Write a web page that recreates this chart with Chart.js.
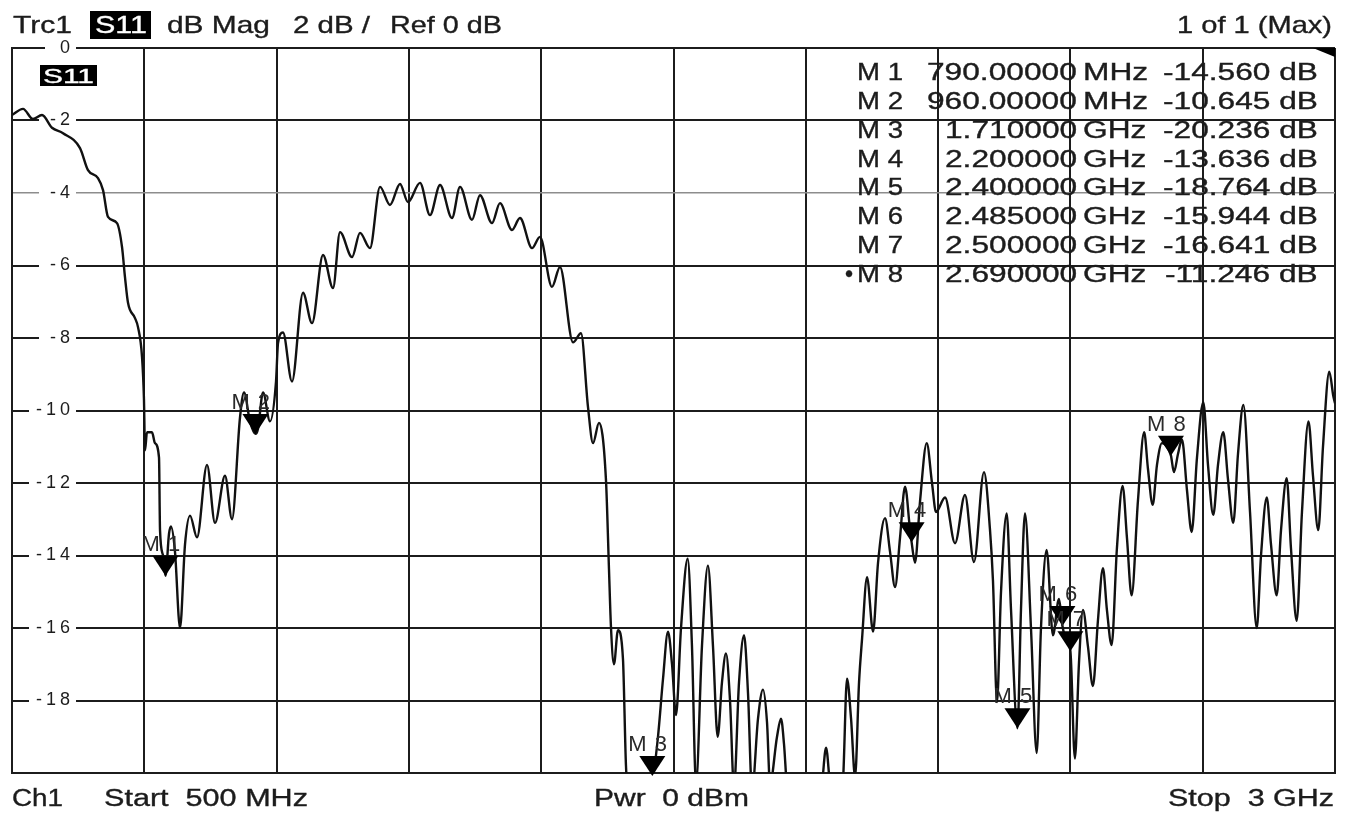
<!DOCTYPE html>
<html><head><meta charset="utf-8">
<script src="https://cdn.jsdelivr.net/npm/chart.js@4.4.1/dist/chart.umd.min.js"></script>
<style>
html,body{margin:0;padding:0;background:#fff;}
#wrap{position:relative;width:1350px;height:814px;overflow:hidden;background:#fff;}
#c{position:absolute;left:0;top:0;}
.t{position:absolute;white-space:pre;font-family:"Liberation Sans",Arial,sans-serif;color:#1c1c1c;line-height:1;transform-origin:0 0;-webkit-text-stroke:0.35px #1c1c1c;}
.w{-webkit-text-stroke:0.35px #fff;}
.box{position:absolute;background:#000;}
</style></head>
<body><div id="wrap"><canvas id="c" width="1350" height="814"></canvas></div>
<script>
// ---------- DATA ----------
const freqsMHz = [500,520.8,539.7,556.7,575.6,596.4,628.5,643.6,662.5,672.0,681.4,698.4,707.9,713.5,719.2,732.4,738.1,745.7,749.4,751.3,755.1,764.5,770.2,777.8,779.7,785.4,790,796.7,800.5,808.0,817.5,826.9,836.4,849.6,868.5,883.6,902.5,915.7,930.8,938.4,949.7,960,964.9,974.3,987.5,998.9,1002.7,1012.1,1029.1,1049.9,1066.9,1087.7,1106.6,1119.8,1142.5,1157.6,1176.5,1195.4,1214.3,1233.2,1248.3,1271.0,1289.9,1308.8,1331.4,1346.6,1369.2,1384.3,1407.0,1422.1,1444.8,1459.9,1482.6,1497.7,1520.4,1535.5,1560.1,1575.2,1588.4,1597.9,1609.2,1622.4,1628.1,1631.8,1637.5,1645.1,1654.5,1660.2,1667.8,1686.7,1710,1720.7,1730.2,1739.6,1747.2,1754.7,1764.2,1776.8,1784.9,1792.5,1803.8,1815.1,1824.6,1833.5,1841.6,1849.2,1856.8,1864.3,1873.8,1883.3,1890.8,1898.4,1909.7,1919.1,1926.7,1932.4,1945.6,1953.1,1958.8,1964.5,1989.0,2017.4,2030.7,2038.3,2045.8,2061.0,2070.4,2077.9,2085.5,2093.1,2100.6,2106.3,2115.7,2127.1,2136.5,2149.7,2159.2,2168.6,2178.1,2187.5,2197.0,2200,2206.4,2215.9,2228.5,2238.5,2246.1,2263.1,2282.0,2300.8,2317.8,2336.7,2348.1,2353.7,2361.3,2368.9,2379.6,2387.8,2400,2406.6,2414.2,2425.5,2436.3,2444.4,2455.1,2467.0,2478.4,2485,2491.6,2500,2508.5,2516.1,2523.7,2533.1,2542.6,2552.0,2561.5,2569.0,2577.9,2587.9,2598.7,2606.8,2615.7,2627.6,2639.4,2646.5,2655.5,2663.6,2673.0,2682.5,2690,2695.7,2703.3,2710.8,2720.3,2729.2,2739.2,2751.1,2760.0,2770.0,2778.9,2788.9,2797.8,2807.8,2816.7,2826.8,2839.4,2852.1,2860.2,2871.0,2879.1,2889.8,2898.0,2908.7,2916.8,2927.6,2937.6,2949.9,2958.4,2968.4,2977.3,2989.2,2996.8,3000];
const s11dB = [-1.85,-1.68,-1.96,-1.85,-2.2,-2.35,-2.76,-3.37,-3.59,-3.92,-4.66,-4.83,-5.49,-6.32,-7.03,-7.45,-7.7,-8.52,-9.71,-11.1,-10.6,-10.6,-10.9,-11.3,-13.3,-14.0,-14.56,-13.4,-13.2,-13.9,-16.0,-13.7,-12.9,-13.5,-11.5,-13.1,-11.8,-13.0,-10.2,-9.5,-10.3,-10.645,-10.5,-9.5,-10.3,-9.2,-8.14,-7.85,-9.2,-6.75,-7.59,-5.71,-6.62,-5.08,-5.77,-5.1,-5.52,-3.83,-4.33,-3.75,-4.25,-3.72,-4.61,-3.78,-4.69,-3.83,-4.74,-4.06,-4.83,-4.28,-5.02,-4.69,-5.52,-5.21,-6.59,-6.04,-8.12,-7.87,-9.9,-10.9,-10.34,-11.92,-14.38,-15.96,-17.0,-16.06,-16.85,-19.8,-21.0,-21.0,-20.236,-19.0,-17.4,-16.1,-17.0,-18.4,-16.0,-14.09,-16.5,-20.3,-16.5,-14.28,-16.5,-19.0,-17.5,-16.7,-18.0,-20.4,-17.5,-16.2,-17.8,-20.5,-18.5,-17.7,-18.6,-20.3,-19.0,-18.5,-19.2,-20.4,-21.5,-21.5,-20.3,-19.3,-20.3,-21.0,-20.2,-17.4,-18.5,-20.1,-17.5,-16.3,-14.6,-16.1,-14.2,-12.97,-13.9,-14.87,-13.5,-12.1,-13.3,-13.636,-14.2,-12.5,-10.9,-12.0,-12.8,-12.4,-13.66,-12.33,-14.18,-11.7,-13.3,-14.7,-18.04,-15.0,-12.84,-15.5,-18.764,-15.5,-12.84,-16.0,-19.45,-16.0,-13.85,-16.2,-15.2,-15.944,-16.3,-16.641,-19.6,-17.0,-15.5,-16.5,-17.6,-15.8,-14.35,-15.5,-16.47,-13.8,-12.08,-13.5,-15.1,-12.5,-10.6,-11.6,-12.6,-11.5,-10.9,-11.0,-11.246,-11.7,-11.2,-10.8,-12.2,-13.35,-11.3,-9.77,-11.5,-12.88,-11.5,-10.6,-11.9,-13.1,-11.2,-9.85,-12.8,-16.0,-14.0,-12.4,-13.7,-15.1,-13.3,-11.87,-13.8,-15.8,-12.8,-10.3,-11.8,-13.3,-11.0,-8.93,-9.6,-9.8];

const markerNames = ['M 1','M 2','M 3','M 4','M 5','M 6','M 7','M 8'];
const markerFreqsMHz = [790, 960, 1710, 2200, 2400, 2485, 2500, 2690];
const markerValuesDB = [-14.560, -10.645, -20.236, -13.636, -18.764, -15.944, -16.641, -11.246];
const activeMarker = 7;

const xTickValues = [500,750,1000,1250,1500,1750,2000,2250,2500,2750,3000];
const yTickValues = [0,-2,-4,-6,-8,-10,-12,-14,-16,-18,-20];
const yTickLabels = ['0','-2','-4','-6','-8','-10','-12','-14','-16','-18',''];

const headerTexts = ['Trc1','S11','dB Mag','2 dB /','Ref 0 dB','1 of 1 (Max)'];
const footerTexts = ['Ch1','Start  500 MHz','Pwr  0 dBm','Stop  3 GHz'];
const traceLabel = 'S11';

// ---------- LAYOUT (positions / styles) ----------
const INK = '#1c1c1c';
const wrap = document.getElementById('wrap');
function place(text, l, r, base, size, white){
  const el = document.createElement('span');
  el.className = white ? 't w' : 't';
  el.textContent = text;
  el.style.fontSize = size + 'px';
  if (white) el.style.color = '#fff';
  wrap.appendChild(el);
  const w = el.getBoundingClientRect().width;
  const s = (r - l) / w;
  el.style.left = l + 'px';
  el.style.top = (base - 0.8465 * size) + 'px';
  el.style.transform = 'scaleX(' + s + ')';
  return el;
}
function placeScaled(text, x, base, size, s, anchor){
  const el = document.createElement('span');
  el.className = 't';
  el.textContent = text;
  el.style.fontSize = size + 'px';
  wrap.appendChild(el);
  const w = el.getBoundingClientRect().width * s;
  el.style.left = (anchor === 'right' ? x - w : x) + 'px';
  el.style.top = (base - 0.8465 * size) + 'px';
  el.style.transform = 'scaleX(' + s + ')';
  return el;
}
function addBox(l, t, w, h){
  const b = document.createElement('div');
  b.className = 'box';
  b.style.left = l + 'px'; b.style.top = t + 'px';
  b.style.width = w + 'px'; b.style.height = h + 'px';
  wrap.appendChild(b);
}

// header
const hdrPos = [[13,72],[95,147],[167,270],[293,370],[390,502],[1177,1332]];
addBox(90, 11, 61, 28);
headerTexts.forEach((t,i)=>place(t, hdrPos[i][0], hdrPos[i][1], 33, 24, i===1));
// footer
const ftrPos = [[12,63],[104,308],[594,749],[1168,1334]];
footerTexts.forEach((t,i)=>place(t, ftrPos[i][0], ftrPos[i][1], 806, 23, false));
// trace label box in plot
addBox(40, 65, 57, 21);
place(traceLabel, 43, 94, 83, 20, true);

// marker table
(function(){
  const size = 23;
  const probe = document.createElement('span');
  probe.className = 't'; probe.style.fontSize = size + 'px'; probe.textContent = '-14.560 dB';
  wrap.appendChild(probe);
  const s = 155 / probe.getBoundingClientRect().width;
  wrap.removeChild(probe);
  markerNames.forEach((nm,i)=>{
    const base = 72.5 + 28.8 * i + 8.2;
    const f = markerFreqsMHz[i];
    const num = f < 1000 ? f.toFixed(5) : (f/1000).toFixed(6);
    const unit = f < 1000 ? 'MHz' : 'GHz';
    place(nm, 857, 903, base, size, false);
    if (i === activeMarker) placeScaled('\u2022', 853, base, size, 1.0, 'right');
    placeScaled(num, 1077, base, size, s, 'right');
    placeScaled(unit, 1083, base, size, s, 'left');
    placeScaled(markerValuesDB[i].toFixed(3) + ' dB', 1318, base, size, s, 'right');
  });
})();

// ---------- CHART ----------
const points = freqsMHz.map((f,i)=>({x:f, y:s11dB[i]}));

const letterSpacingPlugin = {
  id: 'tickSpacing',
  beforeDraw(chart){ chart.ctx.letterSpacing = '4px'; },
  beforeDatasetsDraw(chart){ chart.ctx.letterSpacing = '0px'; }
};
const markerPlugin = {
  id: 'markers',
  afterDatasetsDraw(chart){
    const {ctx, chartArea, scales} = chart;
    ctx.save();
    markerFreqsMHz.forEach((f,i)=>{
      const px = scales.x.getPixelForValue(f);
      let py = scales.y.getPixelForValue(markerValuesDB[i]);
      py = Math.min(py, chartArea.bottom + 3);
      ctx.fillStyle = '#000';
      ctx.beginPath();
      ctx.moveTo(px, py);
      ctx.lineTo(px - 13, py - 20);
      ctx.lineTo(px + 13, py - 20);
      ctx.closePath();
      ctx.fill();
      ctx.letterSpacing = '1px';
      ctx.font = '22px "Liberation Sans", Arial, sans-serif';
      ctx.fillStyle = '#2a2a2a';
      ctx.textAlign = 'left';
      ctx.textBaseline = 'alphabetic';
      ctx.fillText(markerNames[i], px - 24, py - 25);
    });
    ctx.letterSpacing = '0px';
    // corner wedge
    ctx.fillStyle = '#000';
    ctx.beginPath();
    ctx.moveTo(chartArea.right - 22, chartArea.top);
    ctx.lineTo(chartArea.right, chartArea.top);
    ctx.lineTo(chartArea.right, chartArea.top + 9);
    ctx.closePath();
    ctx.fill();
    ctx.restore();
  }
};

new Chart(document.getElementById('c'), {
  type: 'line',
  data: {
    datasets: [{
      data: points,
      borderColor: '#111',
      borderWidth: 2.4,
      pointRadius: 0,
      fill: false,
      cubicInterpolationMode: 'monotone'
    }]
  },
  options: {
    responsive: false,
    devicePixelRatio: 1,
    animation: false,
    events: [],
    layout: { padding: { left: 12, top: 48, right: 15, bottom: 41 } },
    plugins: { legend: { display: false }, tooltip: { enabled: false } },
    scales: {
      x: {
        type: 'linear', min: 500, max: 3000,
        afterBuildTicks: (s) => { s.ticks = xTickValues.map(v => ({value: v})); },
        ticks: { display: false },
        grid: { color: INK, lineWidth: 2, drawTicks: false },
        border: { display: true, color: INK, width: 2 },
        afterFit: (s) => { s.height = 0; s.paddingLeft = 0; s.paddingRight = 0; s.paddingTop = 0; s.paddingBottom = 0; }
      },
      y: {
        type: 'linear', min: -20, max: 0,
        afterBuildTicks: (s) => { s.ticks = yTickValues.map(v => ({value: v})); },
        ticks: {
          mirror: true, crossAlign: 'far', padding: 36,
          autoSkip: false,
          font: { family: '"Liberation Sans", Arial, sans-serif', size: 18 },
          color: INK,
          showLabelBackdrop: (ctx) => ctx.tick && ctx.tick.value !== -20,
          backdropColor: '#fff',
          backdropPadding: { left: 19, right: 2, top: 1, bottom: 1 },
          callback: (v) => { const i = yTickValues.indexOf(v); return i >= 0 ? yTickLabels[i] : ''; }
        },
        grid: {
          color: (ctx) => (ctx.tick && ctx.tick.value === -4) ? '#8d8d8d' : INK,
          lineWidth: (ctx) => (ctx.tick && ctx.tick.value === -4) ? 1.5 : 2,
          drawTicks: false
        },
        border: { display: true, color: INK, width: 2 },
        afterFit: (s) => { s.width = 0; s.paddingLeft = 0; s.paddingRight = 0; s.paddingTop = 0; s.paddingBottom = 0; }
      }
    }
  },
  plugins: [letterSpacingPlugin, markerPlugin]
});
</script>
</body></html>
